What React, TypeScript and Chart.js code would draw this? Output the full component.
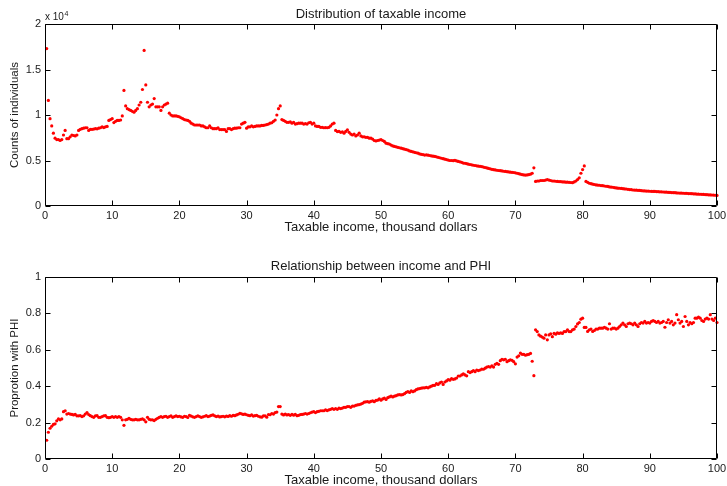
import React, { useEffect, useRef } from 'react';
import { Chart, registerables } from 'chart.js';

Chart.register(...registerables);

// Width of each income bin (thousand dollars); bin i sits at (i+1)*BIN_WIDTH
const BIN_WIDTH = 0.25;

// Counts of individuals per income bin
const COUNTS = [
  17300, 11600, 9600, 8800, 8000, 7450, 7300, 7300,
  7200, 7300, 7800, 8300, 7400, 7400, 7600, 7800,
  7750, 7700, 7800, 8300, 8430, 8500, 8550, 8600,
  8600, 8300, 8430, 8430, 8450, 8500, 8480, 8550,
  8600, 8700, 8620, 8700, 8750, 9400, 9500, 9600,
  9170, 9300, 9400, 9400, 9450, 9900, 12700, 11000,
  10700, 10600, 10500, 10400, 10300, 10500, 10700, 11100,
  11400, 12800, 17100, 13300, 11400, 10900, 11100, 11200,
  11800, 10900, 10900, 10900, 10500, 10900, 11100, 11200,
  11300, 10200, 10000, 9900, 9900, 9900, 9850, 9800,
  9700, 9600, 9500, 9450, 9400, 9300, 9100, 9000,
  8900, 8900, 8900, 8900, 8800, 8800, 8700, 8600,
  8600, 8800, 8600, 8500, 8500, 8500, 8600, 8400,
  8400, 8400, 8400, 8200, 8500, 8500, 8400, 8500,
  8550, 8550, 8600, 8600, 9000, 9100, 9200, 8550,
  8700, 8700, 8800, 8700, 8750, 8800, 8800, 8800,
  8850, 8850, 8900, 8950, 9000, 9100, 9150, 9300,
  9450, 10000, 10700, 11000, 9500, 9400, 9300, 9200,
  9200, 9250, 9100, 9200, 9000, 9050, 9100, 9100,
  9100, 9000, 9050, 9000, 9150, 9200, 9000, 9100,
  8800, 8750, 8750, 8650, 8650, 8600, 8620, 8600,
  8650, 8800, 9000, 9100, 8300, 8180, 8200, 8100,
  8150, 8000, 8200, 8360, 8100, 7900, 7800, 7900,
  7700, 7800, 8000, 7700, 7600, 7600, 7550, 7550,
  7450, 7450, 7350, 7200, 7150, 7200, 7250, 7300,
  7200, 7100, 6900, 6850, 6800, 6700, 6600, 6550,
  6500, 6450, 6400, 6350, 6300, 6250, 6200, 6150,
  6050, 6000, 5950, 5900, 5850, 5800, 5720, 5680,
  5650, 5600, 5620, 5580, 5550, 5500, 5480, 5450,
  5400, 5350, 5300, 5250, 5200, 5150, 5100, 5050,
  5000, 5000, 4980, 5020, 4950, 4900, 4850, 4800,
  4720, 4700, 4650, 4600, 4560, 4520, 4480, 4450,
  4420, 4380, 4360, 4330, 4280, 4230, 4180, 4130,
  4080, 4030, 3990, 3960, 3930, 3900, 3880, 3850,
  3820, 3800, 3770, 3750, 3720, 3700, 3680, 3650,
  3600, 3550, 3500, 3450, 3420, 3400, 3420, 3450,
  3500, 3600, 4200, 2700, 2750, 2750, 2800, 2800,
  2800, 2850, 2900, 2850, 2800, 2750, 2750, 2720,
  2700, 2680, 2680, 2650, 2650, 2620, 2620, 2600,
  2580, 2560, 2650, 2750, 2900, 3100, 3600, 4000,
  4400, 2700, 2600, 2500, 2450, 2400, 2360, 2320,
  2300, 2280, 2250, 2230, 2200, 2170, 2150, 2100,
  2080, 2060, 2010, 1990, 1960, 1950, 1930, 1900,
  1880, 1870, 1830, 1810, 1790, 1760, 1750, 1740,
  1720, 1710, 1680, 1670, 1660, 1640, 1640, 1620,
  1610, 1600, 1600, 1580, 1570, 1560, 1560, 1540,
  1530, 1520, 1500, 1490, 1480, 1460, 1460, 1440,
  1430, 1420, 1420, 1400, 1390, 1390, 1370, 1360,
  1350, 1340, 1330, 1310, 1300, 1290, 1280, 1270,
  1260, 1250, 1230, 1220, 1210, 1200, 1180, 1160,
];

// Proportion with PHI per income bin
const PHI = [
  0.103, 0.147, 0.169, 0.180, 0.190, 0.193, 0.210, 0.220,
  0.215, 0.220, 0.260, 0.265, 0.247, 0.250, 0.247, 0.245,
  0.242, 0.245, 0.237, 0.237, 0.238, 0.233, 0.237, 0.247,
  0.255, 0.244, 0.238, 0.233, 0.229, 0.237, 0.238, 0.229,
  0.229, 0.233, 0.237, 0.238, 0.229, 0.227, 0.229, 0.233,
  0.229, 0.233, 0.229, 0.233, 0.229, 0.215, 0.185, 0.215,
  0.218, 0.224, 0.218, 0.215, 0.215, 0.218, 0.215, 0.215,
  0.218, 0.220, 0.215, 0.204, 0.229, 0.218, 0.215, 0.215,
  0.211, 0.218, 0.224, 0.229, 0.233, 0.229, 0.233, 0.235,
  0.229, 0.233, 0.237, 0.229, 0.233, 0.237, 0.233, 0.235,
  0.231, 0.229, 0.235, 0.233, 0.228, 0.240, 0.236, 0.232,
  0.229, 0.233, 0.237, 0.233, 0.229, 0.232, 0.235, 0.238,
  0.233, 0.236, 0.240, 0.242, 0.237, 0.233, 0.236, 0.231,
  0.233, 0.235, 0.232, 0.236, 0.234, 0.238, 0.235, 0.240,
  0.238, 0.242, 0.246, 0.251, 0.248, 0.245, 0.247, 0.243,
  0.240, 0.238, 0.242, 0.236, 0.238, 0.240, 0.235, 0.232,
  0.230, 0.237, 0.237, 0.230, 0.244, 0.243, 0.250, 0.247,
  0.255, 0.258, 0.288, 0.288, 0.247, 0.242, 0.247, 0.242,
  0.244, 0.240, 0.245, 0.241, 0.245, 0.238, 0.240, 0.244,
  0.245, 0.247, 0.250, 0.247, 0.250, 0.254, 0.258, 0.260,
  0.255, 0.260, 0.262, 0.265, 0.265, 0.265, 0.270, 0.266,
  0.270, 0.273, 0.277, 0.273, 0.277, 0.273, 0.279, 0.277,
  0.280, 0.284, 0.284, 0.288, 0.288, 0.284, 0.291, 0.291,
  0.295, 0.297, 0.299, 0.302, 0.306, 0.312, 0.314, 0.315,
  0.312, 0.317, 0.319, 0.315, 0.322, 0.324, 0.330, 0.323,
  0.330, 0.334, 0.327, 0.337, 0.341, 0.345, 0.341, 0.345,
  0.348, 0.352, 0.354, 0.352, 0.354, 0.359, 0.366, 0.371,
  0.366, 0.374, 0.370, 0.374, 0.381, 0.385, 0.387, 0.389,
  0.391, 0.391, 0.394, 0.391, 0.396, 0.400, 0.404, 0.405,
  0.414, 0.410, 0.418, 0.423, 0.410, 0.423, 0.429, 0.436,
  0.433, 0.442, 0.438, 0.440, 0.445, 0.456, 0.456, 0.462,
  0.468, 0.462, 0.457, 0.480, 0.475, 0.480, 0.486, 0.480,
  0.489, 0.486, 0.489, 0.494, 0.493, 0.499, 0.505, 0.508,
  0.505, 0.512, 0.505, 0.520, 0.525, 0.520, 0.540, 0.548,
  0.545, 0.548, 0.535, 0.540, 0.545, 0.542, 0.535, 0.523,
  0.560, 0.567, 0.582, 0.575, 0.575, 0.570, 0.573, 0.575,
  0.580, 0.537, 0.458, 0.710, 0.700, 0.682, 0.675, 0.670,
  0.664, 0.682, 0.655, 0.682, 0.688, 0.672, 0.690, 0.686,
  0.693, 0.690, 0.693, 0.690, 0.700, 0.700, 0.710, 0.700,
  0.700, 0.710, 0.714, 0.728, 0.742, 0.750, 0.768, 0.774,
  0.723, 0.723, 0.701, 0.710, 0.714, 0.701, 0.706, 0.714,
  0.714, 0.719, 0.719, 0.719, 0.724, 0.719, 0.714, 0.743,
  0.714, 0.719, 0.719, 0.714, 0.719, 0.728, 0.737, 0.747,
  0.737, 0.728, 0.743, 0.747, 0.743, 0.737, 0.747, 0.737,
  0.728, 0.743, 0.750, 0.747, 0.756, 0.747, 0.750, 0.747,
  0.756, 0.761, 0.756, 0.750, 0.756, 0.747, 0.750, 0.756,
  0.724, 0.750, 0.765, 0.747, 0.756, 0.737, 0.747, 0.793,
  0.765, 0.747, 0.756, 0.728, 0.783, 0.756, 0.737, 0.750,
  0.743, 0.750, 0.774, 0.774, 0.779, 0.774, 0.761, 0.756,
  0.769, 0.774, 0.769, 0.793, 0.769, 0.761, 0.774, 0.750,
];

const X_TICKS = [0, 10, 20, 30, 40, 50, 60, 70, 80, 90, 100];
const COUNT_TICKS = [0, 5000, 10000, 15000, 20000];
const PHI_TICKS = [0, 0.2, 0.4, 0.6, 0.8, 1];

const FONT = '"Liberation Sans", Arial, Helvetica, sans-serif';
const TEXT = '#1a1a1a';

const framePlugin = {
  id: 'matlabFrame',
  afterDraw(chart: any, _args: any, opts: any) {
    const { ctx, chartArea: a, scales } = chart;
    const L = Math.floor(a.left) + 0.5;
    const R = Math.floor(a.right) - 0.5;
    const T = Math.floor(a.top) + 0.5;
    const B = Math.floor(a.bottom) - 0.5;
    ctx.save();
    ctx.strokeStyle = '#000';
    ctx.lineWidth = 1;
    ctx.beginPath();
    ctx.rect(L, T, R - L, B - T);
    const tl = 5;
    scales.x.ticks.forEach((t: any) => {
      const px = Math.round(scales.x.getPixelForValue(t.value)) + 0.5;
      ctx.moveTo(px, B); ctx.lineTo(px, B - tl);
      ctx.moveTo(px, T); ctx.lineTo(px, T + tl);
    });
    scales.y.ticks.forEach((t: any) => {
      const py = Math.round(scales.y.getPixelForValue(t.value)) + 0.5;
      ctx.moveTo(L, py); ctx.lineTo(L + tl, py);
      ctx.moveTo(R, py); ctx.lineTo(R - tl, py);
    });
    ctx.stroke();

    ctx.fillStyle = TEXT;
    const cx = (a.left + a.right) / 2;
    ctx.textAlign = 'center';
    ctx.textBaseline = 'alphabetic';
    ctx.font = `13px ${FONT}`;
    ctx.fillText(opts.title, cx, opts.titleY);
    ctx.fillText(opts.xLabel, cx, opts.xLabelY);

    ctx.save();
    ctx.translate(opts.yLabelX, (a.top + a.bottom) / 2);
    ctx.rotate(-Math.PI / 2);
    ctx.textBaseline = 'middle';
    ctx.font = `11.5px ${FONT}`;
    ctx.fillText(opts.yLabel, 0, 0);
    ctx.restore();

    if (opts.exponent) {
      ctx.textAlign = 'left';
      ctx.font = `10px ${FONT}`;
      ctx.fillText('x 10', a.left, 20);
      const w = ctx.measureText('x 10').width;
      ctx.font = `7px ${FONT}`;
      ctx.fillText(opts.exponent, a.left + w + 0.5, 15.5);
    }
    ctx.restore();
  },
};

function makeConfig(values: number[], yTicks: number[], yMax: number, fmt: (v: number) => string, padTop: number, xHeight: number, frame: any): any {
  const pts = values.map((v, i) => ({ x: (i + 1) * BIN_WIDTH, y: v }));
  return {
    type: 'scatter',
    data: {
      datasets: [{
        data: pts,
        pointRadius: 1.6,
        pointBackgroundColor: '#ff0000',
        pointBorderWidth: 0,
        pointBorderColor: '#ff0000',
        showLine: false,
        clip: 3,
      }],
    },
    options: {
      responsive: false,
      animation: false,
      events: [],
      layout: { padding: { top: padTop, right: 10, left: 0, bottom: 0 } },
      plugins: {
        legend: { display: false },
        tooltip: { enabled: false },
        matlabFrame: frame,
      },
      scales: {
        x: {
          type: 'linear',
          min: 0,
          max: 100,
          afterBuildTicks: (s: any) => { s.ticks = X_TICKS.map((v) => ({ value: v })); },
          ticks: { font: { family: FONT, size: 11 }, color: TEXT, padding: 3, maxRotation: 0, autoSkip: false },
          grid: { display: false, drawTicks: false },
          border: { display: false },
          afterFit: (s: any) => { s.height = xHeight; s.paddingLeft = 0; s.paddingRight = 0; },
        },
        y: {
          type: 'linear',
          min: 0,
          max: yMax,
          afterBuildTicks: (s: any) => { s.ticks = yTicks.map((v) => ({ value: v })); },
          ticks: { font: { family: FONT, size: 11 }, color: TEXT, padding: 4, callback: (v: number) => fmt(v), autoSkip: false },
          grid: { display: false, drawTicks: false },
          border: { display: false },
          afterFit: (s: any) => { s.width = 45; s.paddingTop = 0; s.paddingBottom = 0; },
        },
      },
    },
    plugins: [framePlugin],
  };
}

export default function App() {
  const topRef = useRef<HTMLCanvasElement>(null);
  const botRef = useRef<HTMLCanvasElement>(null);

  useEffect(() => {
    const top = new Chart(topRef.current as HTMLCanvasElement, makeConfig(
      COUNTS, COUNT_TICKS, 20000, (v) => String(v / 10000), 24, 37,
      { title: 'Distribution of taxable income', titleY: 18, xLabel: 'Taxable income, thousand dollars', xLabelY: 231, yLabel: 'Counts of individuals', yLabelX: 15, exponent: '4' },
    ));
    const bot = new Chart(botRef.current as HTMLCanvasElement, makeConfig(
      PHI, PHI_TICKS, 1, (v) => String(Math.round(v * 10) / 10), 34, 27,
      { title: 'Relationship between income and PHI', titleY: 27, xLabel: 'Taxable income, thousand dollars', xLabelY: 241, yLabel: 'Proprotion with PHI', yLabelX: 15, exponent: '' },
    ));
    return () => { top.destroy(); bot.destroy(); };
  }, []);

  return (
    <div style={{ position: 'absolute', left: 0, top: 0, width: 727, height: 486, background: '#fff' }}>
      <canvas ref={topRef} width={727} height={243} style={{ display: 'block', width: 727, height: 243 }} />
      <canvas ref={botRef} width={727} height={243} style={{ display: 'block', width: 727, height: 243 }} />
    </div>
  );
}
